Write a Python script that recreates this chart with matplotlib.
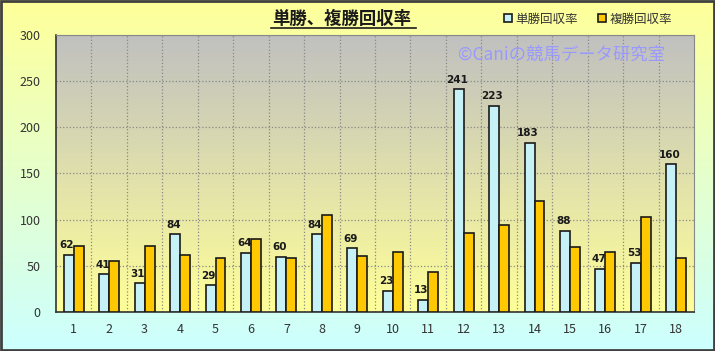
import matplotlib.pyplot as plt
import numpy as np
from matplotlib.colors import LinearSegmentedColormap
from matplotlib.patches import Rectangle

plt.rcParams['font.family'] = ['Noto Sans CJK JP', 'DejaVu Sans']

categories = [str(i) for i in range(1, 19)]
win_rate = [62, 41, 31, 84, 29, 64, 60, 84, 69, 23, 13, 241, 223, 183, 88, 47, 53, 160]
place_rate = [72, 55, 71, 62, 59, 79, 59, 105, 61, 65, 43, 86, 94, 120, 70, 65, 103, 58]
series_names = ["単勝回収率", "複勝回収率"]

fig = plt.figure(figsize=(7.15, 3.51), dpi=100)

# figure background gradient (yellow -> pale cyan)
bg = fig.add_axes([0, 0, 1, 1], zorder=-10)
bg_cmap = LinearSegmentedColormap.from_list("bg", ["#FFFF99", "#CCFFFF"])
bg.imshow(np.linspace(0, 1, 256).reshape(-1, 1), cmap=bg_cmap, aspect="auto",
          extent=[0, 1, 0, 1])
bg.set_xlim(0, 1)
bg.set_ylim(0, 1)
bg.axis("off")
bg.add_patch(Rectangle((0.001, 0.002), 0.997, 0.995, fill=False, edgecolor="#404040",
                       linewidth=2, transform=bg.transAxes))

ax = fig.add_axes([56 / 715, 1 - 312 / 351, (694 - 56) / 715, (312 - 35) / 351])
ax.set_facecolor("none")
n = len(categories)
x = np.arange(n)

# plot area gradient (gray -> light yellow)
pa_cmap = LinearSegmentedColormap.from_list("pa", ["#C0C0C0", "#FFFF99"])
ax.imshow(np.linspace(0, 1, 256).reshape(-1, 1), cmap=pa_cmap, aspect="auto",
          extent=[-0.5, n - 0.5, 0, 300], zorder=0)

w = 0.28
ax.bar(x - w / 2, win_rate, w, color="#C6F2F7", edgecolor="#1a1a1a", linewidth=1.2,
       zorder=3, label=series_names[0])
ax.bar(x + w / 2, place_rate, w, color="#FFC800", edgecolor="#1a1a1a", linewidth=1.2,
       zorder=3, label=series_names[1])

for xi, v in zip(x, win_rate):
    ax.text(xi - w / 2 - 0.05, v + 5, str(v), ha="center", va="bottom", fontsize=7.5,
            fontweight="bold", color="#1a1a1a", family="DejaVu Sans", zorder=4)

ax.set_xlim(-0.5, n - 0.5)
ax.set_ylim(0, 300)
ax.set_yticks(range(0, 301, 50))
ax.set_xticks(x)
ax.set_xticklabels(categories)
ax.set_xticks(np.arange(0.5, n - 0.5, 1), minor=True)
ax.grid(True, axis="y", which="major", color="#888888", linestyle=":", linewidth=0.9, zorder=1)
ax.grid(True, axis="x", which="minor", color="#888888", linestyle=":", linewidth=0.9, zorder=1)
ax.grid(False, axis="x", which="major")
ax.tick_params(axis="both", which="both", length=0, labelsize=9, labelcolor="#333333", pad=8)
ax.tick_params(axis="y", pad=11)
for side in ["top", "right"]:
    ax.spines[side].set_color("#888888")
    ax.spines[side].set_linewidth(0.8)
for side in ["left", "bottom"]:
    ax.spines[side].set_color("#333333")
    ax.spines[side].set_linewidth(1.2)

# watermark
ax.text(0.955, 0.93, "©Caniの競馬データ研究室", transform=ax.transAxes, ha="right",
        va="center", fontsize=12.5, color="#9999FF", zorder=2)

# title
fig.text(342 / 715, 1 - 19 / 351, "単勝、複勝回収率", ha="center", va="center",
         fontsize=12.5, fontweight="bold", color="#1a1a1a")
fig.add_artist(plt.Line2D([271 / 715, 416 / 715], [1 - 28 / 351, 1 - 28 / 351],
                          color="#1a1a1a", linewidth=1.2))

leg = fig.legend(loc="center", bbox_to_anchor=(588 / 715, 1 - 19 / 351), ncol=2,
                 frameon=False, fontsize=9, handlelength=0.6, handleheight=0.6,
                 handletextpad=0.3, columnspacing=1.6)
for t in leg.get_texts():
    t.set_color("#333333")

fig.savefig("out.png", dpi=100)
